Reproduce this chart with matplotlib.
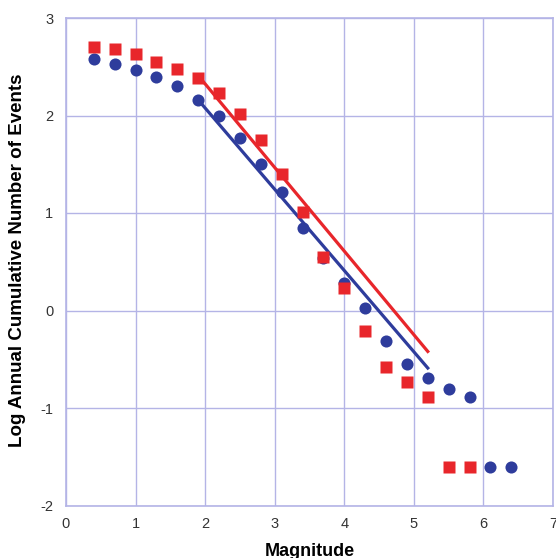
import matplotlib.pyplot as plt
import numpy as np

plt.rcParams['font.family'] = ['Liberation Sans', 'DejaVu Sans']
plt.rcParams['axes.unicode_minus'] = False

# red squares
red_mag = [0.4, 0.7, 1.0, 1.3, 1.6, 1.9, 2.2, 2.5, 2.8, 3.1, 3.4, 3.7, 4.0, 4.3, 4.6, 4.9, 5.2, 5.5, 5.8]
red_log = [2.70, 2.68, 2.63, 2.55, 2.48, 2.38, 2.23, 2.02, 1.75, 1.40, 1.01, 0.55, 0.23, -0.21, -0.58, -0.73, -0.89, -1.60, -1.60]

# blue circles
blue_mag = [0.4, 0.7, 1.0, 1.3, 1.6, 1.9, 2.2, 2.5, 2.8, 3.1, 3.4, 3.7, 4.0, 4.3, 4.6, 4.9, 5.2, 5.5, 5.8, 6.1, 6.4]
blue_log = [2.58, 2.53, 2.47, 2.39, 2.30, 2.16, 1.99, 1.77, 1.50, 1.22, 0.85, 0.54, 0.28, 0.03, -0.31, -0.55, -0.69, -0.81, -0.89, -1.60, -1.60]

# fitted lines (end points)
red_fit_mag = [1.9, 5.2]
red_fit_log = [2.41, -0.42]
blue_fit_mag = [1.9, 5.2]
blue_fit_log = [2.16, -0.59]

red = '#e8262b'
blue = '#2e3c9c'
grid = '#b4b4e6'

fig = plt.figure(figsize=(5.56, 5.58), dpi=100)
ax = fig.add_axes([66/556, 1-505.5/558, 487/556, 487.5/558])

ax.plot(red_fit_mag, red_fit_log, color=red, lw=2.3, zorder=3)
ax.plot(blue_fit_mag, blue_fit_log, color=blue, lw=2.3, zorder=3)
ax.plot(blue_mag, blue_log, 'o', color=blue, ms=8.7, mec='none', zorder=4)
ax.plot(red_mag, red_log, 's', color=red, ms=8.7, mec='none', zorder=5)

ax.set_xlim(0, 7)
ax.set_ylim(-2, 3)
ax.set_xticks(range(0, 8))
ax.set_yticks(range(-2, 4))
ax.grid(True, color=grid, lw=1)
ax.set_axisbelow(True)
for s in ax.spines.values():
    s.set_color(grid)
    s.set_linewidth(1.2)
ax.tick_params(length=0, labelsize=10.5, colors='#333333')
ax.tick_params(axis='x', pad=8)
ax.tick_params(axis='y', pad=9)

ax.set_xlabel('Magnitude', fontsize=13, fontweight='bold', labelpad=9)
ax.set_ylabel('Log Annual Cumulative Number of Events', fontsize=13.5, fontweight='bold')
ax.yaxis.set_label_coords(-0.082, 0.503)

fig.savefig('out.png', dpi=100)
